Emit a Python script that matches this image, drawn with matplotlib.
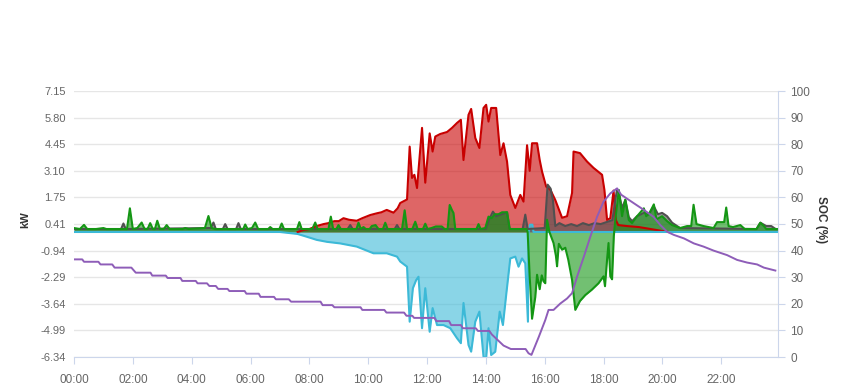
import numpy as np
import matplotlib
matplotlib.use("Agg")
import matplotlib.pyplot as plt

plt.rcParams['font.family'] = ['Liberation Sans', 'DejaVu Sans']

# ----------------- Data (hours of day, kW / %) -----------------
red_t = [7.6, 7.8, 8.0, 8.25, 8.48, 8.65, 8.85, 9.0, 9.16, 9.35, 9.61, 9.8,
         10.07, 10.3, 10.45, 10.63, 10.86, 11.0, 11.09, 11.32, 11.41, 11.49,
         11.57, 11.66, 11.83, 11.94, 12.09, 12.19, 12.28, 12.45, 12.68, 12.85,
         13.02, 13.15, 13.24, 13.41, 13.5, 13.64, 13.78, 13.92, 14.01, 14.09,
         14.18, 14.35, 14.49, 14.6, 14.72, 14.83, 15.0, 15.17, 15.28, 15.4,
         15.49, 15.57, 15.74, 15.83, 15.91, 16.05, 16.19, 16.36, 16.59, 16.76,
         16.93, 16.98, 17.2, 17.44, 17.66, 17.95, 18.03, 18.12, 18.23, 18.34,
         18.42, 18.5, 18.8, 19.2, 19.6, 20.0, 20.2]
red_kw = [0.0, 0.1, 0.15, 0.3, 0.4, 0.45, 0.55, 0.55, 0.7, 0.62, 0.57, 0.7,
          0.86, 0.95, 1.0, 1.12, 0.98, 1.2, 1.47, 1.65, 4.33, 2.74,
          2.9, 2.23, 5.28, 2.5, 5.0, 4.08, 4.84, 4.97, 5.07, 5.28,
          5.53, 5.69, 3.65, 5.94, 6.24, 4.77, 4.26, 6.29, 6.45, 5.6,
          6.29, 6.29, 3.9, 4.5, 3.57, 1.88, 1.22, 1.88, 1.54, 4.4,
          3.1, 4.5, 4.5, 3.65, 3.06, 2.3, 2.15, 1.62, 0.72, 0.8,
          1.98, 4.08, 4.0, 3.57, 3.25, 2.9, 2.13, 0.61, 0.7, 2.1,
          0.6, 0.35, 0.3, 0.25, 0.15, 0.05, 0.0]

cyan_t = [0.0, 7.0, 7.6, 7.91, 8.25, 8.6, 9.05, 9.61, 10.18, 10.63, 10.98,
          11.09, 11.32, 11.41, 11.52, 11.63, 11.71, 11.83, 11.94, 12.09, 12.19,
          12.34, 12.56, 12.79, 13.02, 13.15, 13.24, 13.41, 13.5, 13.64, 13.78,
          13.92, 14.01, 14.09, 14.18, 14.32, 14.47, 14.58, 14.69, 14.83, 15.0,
          15.11, 15.23, 15.34, 15.43, 15.45, 15.5, 15.58, 15.62, 23.93]
cyan_kw = [0.0, 0.0, -0.1, -0.24, -0.4, -0.5, -0.58, -0.74, -1.08, -1.08, -1.25,
           -1.5, -1.76, -4.55, -2.85, -2.44, -2.27, -4.88, -2.85, -5.06, -3.86,
           -4.72, -4.72, -4.88, -5.39, -5.64, -3.6, -5.73, -6.07, -4.55, -4.04,
           -6.33, -6.4, -4.88, -6.24, -6.07, -4.04, -4.72, -3.2, -1.34, -1.25,
           -1.76, -1.34, -1.59, -4.55, 0.0, 0.37, 0.37, 0.0, 0.0]

grey_t = [0.0, 1.6, 1.68, 1.76, 4.65, 4.74, 4.82, 5.06, 5.14, 5.22, 5.51, 5.59,
          5.67, 9.3, 9.39, 9.47, 10.9, 10.98, 11.06, 14.0, 14.1, 14.24, 14.35,
          14.72, 14.81, 15.25, 15.34, 15.42, 16.0, 16.1, 16.2, 16.28, 16.36,
          16.5, 16.7, 16.9, 17.1, 17.3, 17.5, 17.7, 17.9, 18.1, 18.3, 18.45,
          18.52, 18.63, 18.74, 18.86, 18.97, 19.14, 19.37, 19.54, 19.71, 19.85,
          19.99, 20.16, 20.33, 20.6, 23.2, 23.33, 23.53, 23.7, 23.85, 23.93]
grey_kw = [0.15, 0.15, 0.43, 0.15, 0.2, 0.48, 0.15, 0.15, 0.4, 0.15, 0.15, 0.45,
           0.15, 0.15, 0.35, 0.15, 0.15, 0.35, 0.15, 0.15, 0.6, 1.03, 0.8,
           1.0, 0.15, 0.15, 0.88, 0.15, 0.2, 2.4, 2.2, 1.6, 0.3,
           0.45, 0.3, 0.4, 0.3, 0.45, 0.35, 0.45, 0.4, 0.5, 0.6, 2.1,
           2.0, 1.2, 1.63, 0.75, 0.55, 0.8, 0.97, 0.9, 1.3, 0.9,
           0.97, 0.8, 0.47, 0.2, 0.15, 0.47, 0.3, 0.3, 0.15, 0.15]

green_t = [0.0, 0.2, 0.34, 0.45, 0.75, 1.0, 1.1, 1.8, 1.9, 2.0, 2.15, 2.3, 2.4,
           2.5, 2.59, 2.68, 2.75, 2.83, 2.92, 3.05, 3.15, 3.25, 3.7, 3.78, 3.9,
           4.45, 4.57, 4.68, 4.8, 5.75, 5.82, 5.9, 6.05, 6.16, 6.26, 6.6, 6.67,
           6.75, 6.98, 7.06, 7.14, 7.58, 7.66, 7.74, 8.1, 8.2, 8.28, 8.65, 8.73,
           8.81, 8.92, 8.99, 9.07, 9.6, 9.67, 9.75, 9.84, 9.92, 10.05, 10.12,
           10.25, 10.35, 10.5, 10.58, 10.66, 11.15, 11.24, 11.32, 11.5, 11.6,
           11.68, 11.86, 11.94, 12.02, 12.15, 12.3, 12.5, 12.6, 12.7, 12.77,
           12.85, 12.9, 12.96, 13.68, 13.75, 13.82, 13.98, 14.09, 14.2, 14.3,
           14.43, 14.55, 14.72, 14.81, 15.38, 15.42, 15.49, 15.57, 15.68, 15.74,
           15.83, 15.9, 15.96, 16.02, 16.08, 16.16, 16.3, 16.38, 16.42, 16.48,
           16.59, 16.7, 16.8, 16.93, 17.04, 17.2, 17.38, 17.6, 17.83, 18.0,
           18.05, 18.12, 18.17, 18.23, 18.29, 18.35, 18.4, 18.52, 18.63, 18.74,
           18.86, 18.97, 19.14, 19.37, 19.45, 19.54, 19.71, 19.8, 19.99, 20.16,
           20.33, 20.6, 20.84, 20.98, 21.06, 21.16, 21.4, 21.74, 21.86, 22.1,
           22.17, 22.25, 22.4, 22.65, 22.8, 23.2, 23.33, 23.45, 23.53, 23.93]
green_kw = [0.2, 0.15, 0.36, 0.15, 0.15, 0.2, 0.15, 0.15, 1.2, 0.15, 0.2, 0.48, 0.15,
            0.15, 0.45, 0.15, 0.15, 0.57, 0.15, 0.15, 0.35, 0.15, 0.15, 0.2, 0.15,
            0.2, 0.81, 0.2, 0.15, 0.15, 0.38, 0.15, 0.2, 0.48, 0.15, 0.15, 0.25,
            0.15, 0.15, 0.43, 0.15, 0.15, 0.5, 0.15, 0.15, 0.48, 0.15, 0.15, 0.78,
            0.15, 0.15, 0.35, 0.15, 0.15, 0.47, 0.15, 0.25, 0.15, 0.15, 0.3,
            0.35, 0.15, 0.15, 0.47, 0.15, 0.15, 1.1, 0.15, 0.15, 0.52,
            0.15, 0.15, 0.42, 0.15, 0.2, 0.28, 0.28, 0.15, 0.15, 1.37,
            1.1, 0.96, 0.15, 0.15, 0.4, 0.15, 0.2, 0.78, 0.7, 0.9,
            0.9, 1.0, 1.0, 0.15, 0.15, 0.0, -2.26, -4.4, -3.3, -2.17,
            -2.9, -2.2, -2.5, -2.6, 0.62, 0.0, -0.56, -1.2, -1.74, -0.6,
            -0.9, -0.8, -1.4, -2.43, -3.95, -3.5, -3.2, -2.93, -2.6, -2.25,
            -2.75, -1.4, -0.56, -2.25, -2.4, -0.2, 0.62, 2.13, 0.8, 1.64,
            0.6, 0.45, 0.8, 1.2, 0.8, 0.9, 1.4, 0.64, 0.8, 0.55,
            0.35, 0.2, 0.3, 0.3, 1.38, 0.4, 0.3, 0.2, 0.5, 0.5,
            1.24, 0.3, 0.25, 0.35, 0.15, 0.15, 0.47, 0.3, 0.15, 0.15]

soc_t = [0.0, 0.28, 0.34, 0.83, 0.9, 1.3, 1.38, 1.95, 2.02, 2.1, 2.6, 2.66,
         3.12, 3.18, 3.62, 3.68, 4.14, 4.2, 4.52, 4.6, 4.82, 4.9, 5.22, 5.28,
         5.8, 5.86, 6.28, 6.34, 6.8, 6.86, 7.3, 7.38, 8.38, 8.45, 8.78, 8.85,
         9.74, 9.8, 10.55, 10.62, 11.22, 11.3, 11.5, 11.56, 12.25, 12.32, 12.75,
         12.82, 13.15, 13.22, 13.66, 13.73, 14.12, 14.2, 14.6, 14.85, 15.35,
         15.45, 15.55, 15.8, 16.02, 16.13, 16.3, 16.53, 16.76, 16.93, 17.1,
         17.33, 17.55, 17.78, 18.0, 18.23, 18.46, 18.6, 19.03, 19.37, 19.7,
         19.93, 20.16, 20.39, 20.73, 21.07, 21.4, 21.74, 22.2, 22.54, 22.88,
         23.22, 23.45, 23.84]
soc_pct = [36.7, 36.7, 35.8, 35.8, 34.8, 34.8, 33.6, 33.6, 32.7, 31.7, 31.7, 30.6,
           30.6, 29.7, 29.7, 28.6, 28.6, 27.7, 27.7, 26.7, 26.7, 25.6, 25.6, 24.8,
           24.8, 23.8, 23.8, 22.6, 22.6, 21.7, 21.7, 20.8, 20.8, 19.5, 19.5, 18.7,
           18.7, 17.7, 17.7, 16.7, 16.7, 15.5, 15.5, 14.7, 14.7, 13.5, 13.5,
           12.0, 12.0, 10.8, 10.8, 9.8, 9.8, 8.5, 4.3, 3.0, 3.0,
           1.4, 0.8, 7.6, 13.9, 17.7, 17.7, 20.1, 22.0, 24.0, 30.2,
           37.7, 45.2, 52.7, 58.4, 61.5, 63.4, 61.0, 57.8, 55.3, 52.7,
           49.6, 47.1, 45.9, 44.6, 42.7, 41.5, 40.0, 38.3, 36.5, 35.5,
           34.8, 33.6, 32.5]

kw_labels = ["-6.34", "-4.99", "-3.64", "-2.29", "-0.94", "0.41",
             "1.75", "3.10", "4.45", "5.80", "7.15"]
hour_ticks = [0, 2, 4, 6, 8, 10, 12, 14, 16, 18, 20, 22]

# ----------------- Plot -----------------
fig = plt.figure(figsize=(8.49, 3.9), dpi=100)
ax = fig.add_axes([74 / 849, 1 - 357 / 390, 704 / 849, 266 / 390])

series = [
    (red_t, red_kw, '#c80000'),
    (cyan_t, cyan_kw, '#3cb9d7'),
    (grey_t, grey_kw, '#505050'),
    (green_t, green_kw, '#149614'),
]
for t, v, c in series:
    ax.fill_between(t, v, 0, color=c, alpha=0.6, lw=0)
    ax.plot(t, v, color=c, lw=1.5, solid_joinstyle='round')

ax.set_xlim(0, 23.93)
ax.set_ylim(-6.34, 7.15)
ax.set_yticks(np.linspace(-6.34, 7.15, 11))
ax.set_yticklabels(kw_labels)
ax.set_xticks(hour_ticks)
ax.set_xticklabels([f"{h:02d}:00" for h in hour_ticks])
ax.grid(axis='y', color='#e6e6e6', lw=1)
ax.set_axisbelow(True)
for s in ['top', 'left', 'right']:
    ax.spines[s].set_visible(False)
ax.spines['bottom'].set_color('#ccd6eb')
ax.tick_params(axis='y', length=0, labelsize=8, labelcolor='#666666', pad=6)
ax.tick_params(axis='x', length=5, color='#ccd6eb', labelsize=8.5,
               labelcolor='#666666', pad=7)

ax2 = ax.twinx()
ax2.plot(soc_t, soc_pct, color='#8e5db8', lw=1.4)
ax2.set_ylim(0, 100)
ax2.set_yticks(range(0, 101, 10))
for s in ['top', 'left', 'bottom']:
    ax2.spines[s].set_visible(False)
ax2.spines['right'].set_color('#ccd6eb')
ax2.tick_params(axis='y', length=5, color='#ccd6eb', labelsize=8.5,
                labelcolor='#666666', pad=4)

fig.text(25 / 849, 1 - 220 / 390, 'kW', rotation=90, ha='center', va='center',
         fontsize=8, fontweight='bold', color='#333333')
fig.text(821 / 849, 1 - 220 / 390, 'SOC (%)', rotation=270, ha='center',
         va='center', fontsize=8.5, fontweight='bold', color='#333333')

fig.savefig('out.png', dpi=100)
